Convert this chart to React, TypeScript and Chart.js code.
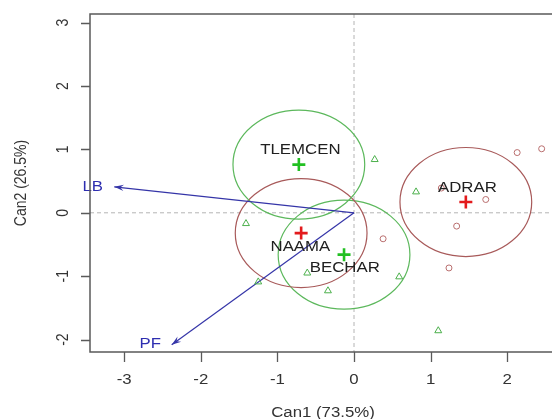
import React, { useEffect, useRef } from 'react';
import { Chart, registerables } from 'chart.js';
Chart.register(...registerables);

// ---- data ----
const xTickValues = [-3, -2, -1, 0, 1, 2];
const yTickValues = [-2, -1, 0, 1, 2, 3];
const xAxisTitle = 'Can1 (73.5%)';
const yAxisTitle = 'Can2 (26.5%)';

const groupNames = ['ADRAR', 'BECHAR', 'NAAMA', 'TLEMCEN'];
const groupCan1 = [1.46, -0.13, -0.69, -0.72];
const groupCan2 = [0.17, -0.66, -0.32, 0.76];
const groupLabelCan1 = [1.48, -0.12, -0.7, -0.7];
const groupLabelCan2 = [0.39, -0.87, -0.54, 0.99];
const groupRadius = [0.86, 0.86, 0.86, 0.86];
const groupCrossColors = ['#e31a1c', '#22c022', '#e31a1c', '#22c022'];
const groupEllipseColors = ['#a85a5a', '#5cb85c', '#a85a5a', '#5cb85c'];

const circleCan1 = [0.38, 1.14, 2.13, 2.45, 1.72, 1.34, 1.24];
const circleCan2 = [-0.41, 0.39, 0.95, 1.01, 0.21, -0.21, -0.87];
const triangleCan1 = [0.27, -1.41, -0.61, -1.25, -0.34, 0.59, 0.81, 1.1];
const triangleCan2 = [0.84, -0.17, -0.95, -1.09, -1.23, -1.01, 0.33, -1.86];

const varNames = ['LB', 'PF'];
const varCan1 = [-3.13, -2.38];
const varCan2 = [0.41, -2.08];
const varLabelCan1 = [-3.41, -2.66];
const varLabelCan2 = [0.4, -2.07];

// ---- style ----
const SX = 1.2;
const FONT = '14px "Liberation Sans", Arial, sans-serif';
const AXIS_COLOR = '#5a5a5a';
const ARROW_COLOR = '#3535a8';

function drawText(ctx: CanvasRenderingContext2D, text: string, x: number, y: number, align: CanvasTextAlign, baseline: CanvasTextBaseline, color: string, rotate = false) {
  ctx.save();
  ctx.translate(x, y);
  ctx.scale(SX, 1);
  if (rotate) ctx.rotate(-Math.PI / 2);
  ctx.font = FONT;
  ctx.fillStyle = color;
  ctx.textAlign = align;
  ctx.textBaseline = baseline;
  ctx.fillText(text, 0, 0);
  ctx.restore();
}

const decorPlugin = {
  id: 'decor',
  beforeDatasetsDraw(chart: any) {
    const { ctx, chartArea: a, scales } = chart;
    const xs = scales.x, ys = scales.y;
    ctx.save();
    // dashed zero lines
    ctx.strokeStyle = '#b4b4b4';
    ctx.lineWidth = 1;
    ctx.setLineDash([4, 3]);
    const x0 = xs.getPixelForValue(0), y0 = ys.getPixelForValue(0);
    ctx.beginPath();
    ctx.moveTo(x0, a.top); ctx.lineTo(x0, a.bottom);
    ctx.moveTo(a.left, y0); ctx.lineTo(a.right, y0);
    ctx.stroke();
    ctx.setLineDash([]);
    // ellipses
    ctx.lineWidth = 1.2;
    groupNames.forEach((_, i) => {
      const cx = xs.getPixelForValue(groupCan1[i]);
      const cy = ys.getPixelForValue(groupCan2[i]);
      const rx = Math.abs(xs.getPixelForValue(groupCan1[i] + groupRadius[i]) - cx);
      const ry = Math.abs(ys.getPixelForValue(groupCan2[i] + groupRadius[i]) - cy);
      ctx.strokeStyle = groupEllipseColors[i];
      ctx.beginPath();
      ctx.ellipse(cx, cy, rx, ry, 0, 0, Math.PI * 2);
      ctx.stroke();
    });
    ctx.restore();
  },
  afterDatasetsDraw(chart: any) {
    const { ctx, chartArea: a, scales } = chart;
    const xs = scales.x, ys = scales.y;
    ctx.save();
    // arrowheads
    varNames.forEach((name, i) => {
      const x0 = xs.getPixelForValue(0), y0 = ys.getPixelForValue(0);
      const x1 = xs.getPixelForValue(varCan1[i]), y1 = ys.getPixelForValue(varCan2[i]);
      const ang = Math.atan2(y1 - y0, x1 - x0);
      const L = 10, w = 0.32;
      ctx.fillStyle = ARROW_COLOR;
      ctx.beginPath();
      ctx.moveTo(x1, y1);
      ctx.lineTo(x1 - L * Math.cos(ang - w), y1 - L * Math.sin(ang - w));
      ctx.lineTo(x1 - 0.6 * L * Math.cos(ang), y1 - 0.6 * L * Math.sin(ang));
      ctx.lineTo(x1 - L * Math.cos(ang + w), y1 - L * Math.sin(ang + w));
      ctx.closePath();
      ctx.fill();
      drawText(ctx, name, xs.getPixelForValue(varLabelCan1[i]), ys.getPixelForValue(varLabelCan2[i]), 'center', 'middle', '#2e2eb0');
    });
    // group labels
    groupNames.forEach((name, i) => {
      drawText(ctx, name, xs.getPixelForValue(groupLabelCan1[i]), ys.getPixelForValue(groupLabelCan2[i]), 'center', 'middle', '#202020');
    });
    // box
    ctx.strokeStyle = AXIS_COLOR;
    ctx.lineWidth = 1.5;
    ctx.beginPath();
    ctx.rect(a.left, a.top, a.right - a.left, a.bottom - a.top);
    ctx.stroke();
    // ticks
    ctx.lineWidth = 1.3;
    ctx.beginPath();
    xs.ticks.forEach((t: any) => {
      const px = Math.round(xs.getPixelForValue(t.value)) + 0.5;
      ctx.moveTo(px, a.bottom); ctx.lineTo(px, a.bottom + 10);
    });
    ys.ticks.forEach((t: any) => {
      const py = Math.round(ys.getPixelForValue(t.value)) + 0.5;
      ctx.moveTo(a.left, py); ctx.lineTo(a.left - 9, py);
    });
    ctx.stroke();
    xs.ticks.forEach((t: any) => {
      drawText(ctx, String(t.value), xs.getPixelForValue(t.value), a.bottom + 32, 'center', 'alphabetic', '#333');
    });
    ys.ticks.forEach((t: any) => {
      drawText(ctx, String(t.value), a.left - 22, ys.getPixelForValue(t.value), 'center', 'alphabetic', '#333', true);
    });
    // axis titles
    drawText(ctx, xAxisTitle, (a.left + a.right) / 2, 417, 'center', 'alphabetic', '#333');
    drawText(ctx, yAxisTitle, 26, (a.top + a.bottom) / 2, 'center', 'alphabetic', '#333', true);
    ctx.restore();
  },
};

export default function App() {
  const ref = useRef<HTMLCanvasElement>(null);
  useEffect(() => {
    if (!ref.current) return;
    const circles = circleCan1.map((x, i) => ({ x, y: circleCan2[i] }));
    const triangles = triangleCan1.map((x, i) => ({ x, y: triangleCan2[i] }));
    const means = groupCan1.map((x, i) => ({ x, y: groupCan2[i] }));
    const arrows = varNames.map((name, i) => ({
      label: name,
      data: [{ x: 0, y: 0 }, { x: varCan1[i], y: varCan2[i] }],
      showLine: true,
      borderColor: ARROW_COLOR,
      borderWidth: 1.2,
      pointRadius: 0,
      order: 4,
    }));
    const chart = new Chart(ref.current, {
      type: 'scatter',
      data: {
        datasets: [
          {
            label: 'means',
            data: means,
            pointStyle: 'cross',
            pointRadius: 6.5,
            pointBorderWidth: 2.6,
            pointBorderColor: groupCrossColors,
            pointBackgroundColor: groupCrossColors,
            order: 0,
          } as any,
          {
            label: 'circles',
            data: circles,
            pointStyle: 'circle',
            pointRadius: 3,
            pointBorderWidth: 1,
            pointBorderColor: '#b96e6e',
            pointBackgroundColor: 'rgba(0,0,0,0)',
            order: 1,
          },
          {
            label: 'triangles',
            data: triangles,
            pointStyle: 'triangle',
            pointRadius: 4,
            pointBorderWidth: 1,
            pointBorderColor: '#4cb04c',
            pointBackgroundColor: 'rgba(0,0,0,0)',
            order: 2,
          },
          ...arrows,
        ],
      },
      options: {
        animation: false,
        responsive: false,
        layout: { autoPadding: false, padding: { left: 0, top: 14, right: 0, bottom: 0 } },
        plugins: { legend: { display: false }, tooltip: { enabled: false } },
        scales: {
          x: {
            type: 'linear',
            position: 'bottom',
            min: (90 - 354) / 76.6,
            max: (556 - 354) / 76.6,
            ticks: { display: false },
            grid: { display: false },
            border: { display: false },
            afterBuildTicks: (s: any) => { s.ticks = xTickValues.map((v) => ({ value: v })); },
            afterFit: (s: any) => { s.height = 67; },
          },
          y: {
            type: 'linear',
            position: 'left',
            min: -139.2 / 63.4,
            max: 198.8 / 63.4,
            ticks: { display: false },
            grid: { display: false },
            border: { display: false },
            afterBuildTicks: (s: any) => { s.ticks = yTickValues.map((v) => ({ value: v })); },
            afterFit: (s: any) => { s.width = 90; },
          },
        },
      } as any,
      plugins: [decorPlugin],
    });
    return () => chart.destroy();
  }, []);
  return (
    <div style={{ position: 'fixed', left: 0, top: 0, width: 552, height: 419, overflow: 'hidden', background: '#fff' }}>
      <canvas ref={ref} width={556} height={419} style={{ display: 'block', width: 556, height: 419 }} />
    </div>
  );
}
